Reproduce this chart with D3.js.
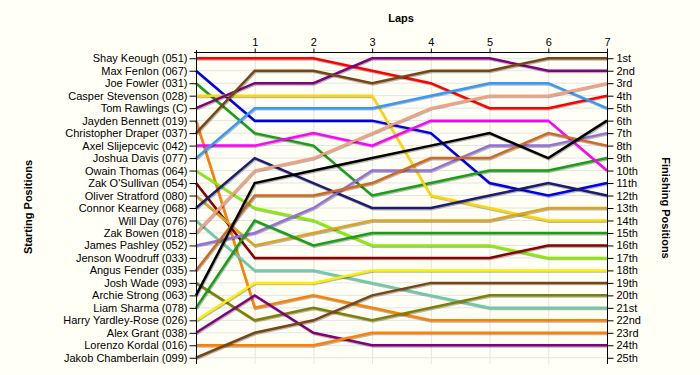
<!DOCTYPE html>
<html>
<head>
<meta charset="utf-8">
<script src="https://cdn.jsdelivr.net/npm/d3@7"></script>
<style>
  html, body { margin: 0; padding: 0; background: #fffff5; }
  svg { display: block; }
  text { font-family: "Liberation Sans", Arial, sans-serif; }
</style>
</head>
<body>
<svg id="chart" width="700" height="375"></svg>
<script>
// ---- data ----
const drivers = [
  "Shay Keough (051)", "Max Fenlon (067)", "Joe Fowler (031)", "Casper Stevenson (028)",
  "Tom Rawlings (C)", "Jayden Bennett (019)", "Christopher Draper (037)", "Axel Slijepcevic (042)",
  "Joshua Davis (077)", "Owain Thomas (064)", "Zak O'Sullivan (054)", "Oliver Stratford (080)",
  "Connor Kearney (068)", "Will Day (076)", "Zak Bowen (018)", "James Pashley (052)",
  "Jenson Woodruff (033)", "Angus Fender (035)", "Josh Wade (093)", "Archie Strong (063)",
  "Liam Sharma (078)", "Harry Yardley-Rose (026)", "Alex Grant (038)", "Lorenzo Kordal (016)",
  "Jakob Chamberlain (099)"
];
const laps = [0, 1, 2, 3, 4, 5, 6, 7];
const lapLabels = ["", "1", "2", "3", "4", "5", "6", "7"];
const finishLabels = ["1st","2nd","3rd","4th","5th","6th","7th","8th","9th","10th","11th","12th","13th",
  "14th","15th","16th","17th","18th","19th","20th","21st","22nd","23rd","24th","25th"];
// position of each driver at start (lap 0) and after laps 1..7 (null = no data)
const positions = [
  [1, 1, 1, 2, 3, 5, 5, 4],
  [2, 6, 6, 6, 7, 11, 12, 11],
  [3, 7, 8, 12, 11, 10, 10, 9],
  [4, 4, 4, 4, 12, 13, 14, 14],
  [5, 3, 3, 1, 1, 1, 2, 2],
  [6, 21, 20, 21, 22, 22, 22, 22],
  [7, 2, 2, 3, 2, 2, 1, 1],
  [8, 8, 7, 8, 6, 6, 6, 10],
  [9, 5, 5, 5, 4, 3, 3, 5],
  [10, 13, 14, 16, 16, 16, 17, 17],
  [11, 17, 17, 17, 17, 17, 16, 16],
  [12, 16, 15, 14, 14, 14, 13, 13],
  [13, 9, 11, 13, 13, 12, 11, 12],
  [14, 18, 18, 19, 20, 21, 21, 21],
  [15, 10, 9, 7, 5, 4, 4, 3],
  [16, 15, 13, 10, 10, 8, 8, 7],
  [null, null, null, null, null, null, null, null],
  [18, 12, 12, 11, 9, 9, 7, 8],
  [19, 22, 21, 22, 21, 20, 20, 20],
  [20, 11, 10, 9, 8, 7, 9, 6],
  [21, 14, 16, 15, 15, 15, 15, 15],
  [22, 19, 19, 18, 18, 18, 18, 18],
  [23, 20, 23, 24, 24, 24, 24, 24],
  [24, 24, 24, 23, 23, 23, 23, 23],
  [25, 23, 22, 20, 19, 19, 19, 19]
];
const colors = [
  "#ff0000", "#0000ee", "#16a016", "#ffd700", "#800080", "#ff8000", "#7a4514", "#ff00ff",
  "#3399ff", "#88ee00", "#8b0000", "#daa520", "#1c1c70", "#66cdaa", "#f4a07e", "#9370db",
  "#e0e0e0", "#d2691e", "#808000", "#000000", "#16a016", "#ffee00", "#800080", "#ff8000",
  "#7a4514"
];

// ---- layout ----
const svg = d3.select("#chart");
const pLeft = 196, pRight = 607, pTop = 52, pBottom = 364;
const x = d3.scaleLinear().domain([0, 7]).range([pLeft, pRight]);
const y = d3.scaleLinear().domain([0.5, 25.5]).range([pTop, pBottom]);
const posVals = d3.range(1, 26);

svg.append("rect").attr("width", 700).attr("height", 375).attr("fill", "#fffff5");

// gridlines
const grid = svg.append("g");
grid.selectAll("line.h").data(posVals).join("line")
  .attr("x1", pLeft).attr("x2", pRight)
  .attr("y1", d => y(d)).attr("y2", d => y(d))
  .attr("stroke", "#e4e4e4").attr("stroke-width", 1);
grid.selectAll("line.v").data(laps.slice(1, 7)).join("line")
  .attr("x1", d => x(d) + 0.5).attr("x2", d => x(d) + 0.5)
  .attr("y1", pTop).attr("y2", pBottom)
  .attr("stroke", "#e4e4e4").attr("stroke-width", 1);

// lines
const line = d3.line()
  .defined(d => d.p != null)
  .x(d => x(d.lap)).y(d => y(d.p));
const series = positions.map((ps, i) => ({
  color: colors[i],
  pts: ps.map((p, j) => ({ lap: laps[j], p }))
})).filter(s => s.pts.some(d => d.p != null));

const lines = svg.append("g");
series.forEach(s => {
  lines.append("path").attr("d", line(s.pts))
    .attr("fill", "none").attr("stroke", "#000").attr("stroke-opacity", 0.28)
    .attr("stroke-width", 2.5).attr("transform", "translate(0.8,1.2)")
    .attr("stroke-linejoin", "miter");
  lines.append("path").attr("d", line(s.pts))
    .attr("fill", "none").attr("stroke", s.color)
    .attr("stroke-width", 2.5).attr("stroke-linejoin", "miter");
});

// axes
const axLeft = d3.axisLeft(y).tickValues(posVals)
  .tickFormat(d => drivers[d - 1]).tickSize(7).tickPadding(2);
const axRight = d3.axisRight(y).tickValues(posVals)
  .tickFormat(d => finishLabels[d - 1]).tickSize(6).tickPadding(3);
const axTop = d3.axisTop(x).tickValues(laps.slice(1))
  .tickFormat(d => lapLabels[d]).tickSize(4).tickPadding(3);

function style(g) {
  g.select(".domain").remove();
  g.selectAll("line").attr("stroke", "#000");
  g.selectAll("text").attr("font-size", "11px").attr("fill", "#000")
    .attr("font-family", "'Liberation Sans', Arial, sans-serif");
}
svg.append("g").attr("transform", `translate(${pLeft + 0.5},0)`).call(axLeft).call(style);
svg.append("g").attr("transform", `translate(${pRight + 0.5},0)`).call(axRight).call(style);
svg.append("g").attr("transform", `translate(0,${pTop + 0.5})`).call(axTop).call(style);

// axis domain lines
svg.append("line").attr("x1", pLeft - 2).attr("x2", pRight + 1).attr("y1", pTop + 0.5).attr("y2", pTop + 0.5).attr("stroke", "#000");
svg.append("line").attr("x1", pLeft + 0.5).attr("x2", pLeft + 0.5).attr("y1", pTop - 2).attr("y2", pBottom).attr("stroke", "#000");
svg.append("line").attr("x1", pRight + 0.5).attr("x2", pRight + 0.5).attr("y1", pTop - 2).attr("y2", pBottom).attr("stroke", "#000");

// titles
svg.append("text").text("Laps").attr("x", 401).attr("y", 22)
  .attr("text-anchor", "middle").attr("font-weight", "bold").attr("font-size", "11px");
svg.append("text").text("Starting Positions")
  .attr("transform", "translate(32,207) rotate(-90)")
  .attr("text-anchor", "middle").attr("font-weight", "bold").attr("font-size", "11px");
svg.append("text").text("Finishing Positions")
  .attr("transform", "translate(662,208) rotate(90)")
  .attr("text-anchor", "middle").attr("font-weight", "bold").attr("font-size", "11px");
</script>
</body>
</html>
